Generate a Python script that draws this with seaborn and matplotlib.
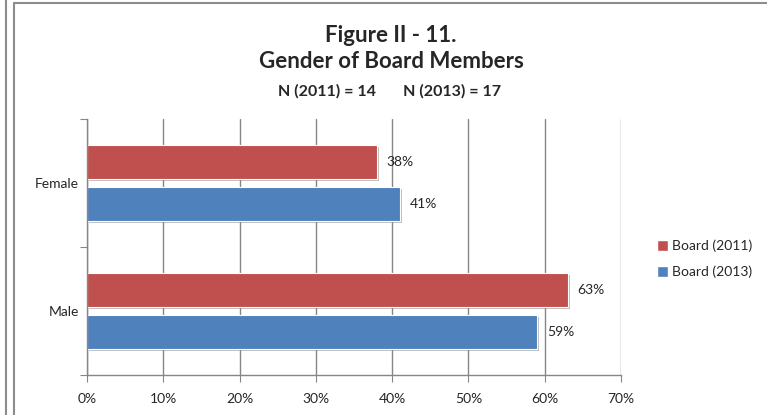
import matplotlib
matplotlib.use("Agg")
import matplotlib.pyplot as plt
import matplotlib.patheffects as pe
from matplotlib.lines import Line2D
from matplotlib.patches import Patch
import seaborn as sns
import pandas as pd

# data
genders = ["Female", "Male"]
board_2011 = [38, 63]
board_2013 = [41, 59]
series_names = ["Board (2011)", "Board (2013)"]
colors = ["#C0504D", "#4F81BD"]
x_ticks = [0, 10, 20, 30, 40, 50, 60, 70]

df = pd.DataFrame({
    "gender": genders * 2,
    "pct": board_2011 + board_2013,
    "series": [series_names[0]] * len(genders) + [series_names[1]] * len(genders),
})

sns.set_style("white")
plt.rcParams["font.family"] = ["Lato", "DejaVu Sans"]

fig = plt.figure(figsize=(7.67, 4.15), dpi=100)
ax = fig.add_axes([87 / 767, 1 - 375 / 415, (621 - 87) / 767, (375 - 119) / 415])

sns.barplot(data=df, y="gender", x="pct", hue="series", hue_order=series_names,
            order=genders, palette=colors, saturation=1, orient="h", width=0.65, gap=0.185,
            edgecolor="white", linewidth=0.8, legend=False, ax=ax)

# soft drop shadow like the Excel original
shadow = [pe.SimplePatchShadow(offset=(1.5, -1.5), shadow_rgbFace="#7f7f7f", alpha=0.5),
          pe.Normal()]
for bar in ax.patches:
    bar.set_path_effects(shadow)

for cont in ax.containers:
    ax.bar_label(cont, labels=[f"{v:.0f}%" for v in cont.datavalues],
                 padding=7, fontsize=10, color="#262626")

ax.set_xlim(0, 70)
ax.set_ylim(1.5, -0.5)
ax.set_xticks(x_ticks)
ax.set_xticklabels([f"{t}%" for t in x_ticks], fontsize=10)
ax.set_yticks([-0.5, 0.5, 1.5], minor=False)
ax.set_yticklabels([])
ax.set_yticks([0, 1], minor=True)
ax.set_yticklabels(genders, minor=True, fontsize=10)
ax.tick_params(axis="y", which="minor", length=0, pad=6)
ax.tick_params(axis="y", which="major", length=5, color="#868686", direction="out", left=True)
ax.tick_params(axis="x", length=5, color="#868686", direction="out", bottom=True, pad=8)
ax.set_xlabel("")
ax.set_ylabel("")
ax.grid(axis="x", color="#868686", linewidth=1)
ax.set_axisbelow(True)
for side in ["top", "right"]:
    ax.spines[side].set_visible(False)
for side in ["left", "bottom"]:
    ax.spines[side].set_color("#868686")
    ax.spines[side].set_linewidth(1)

# titles
fig.text(391 / 767, 1 - 35 / 415, "Figure II - 11.", ha="center", va="center",
         fontsize=16, fontweight="bold")
fig.text(391 / 767, 1 - 61 / 415, "Gender of Board Members", ha="center", va="center",
         fontsize=16, fontweight="bold")
fig.text(390 / 767, 1 - 91 / 415, "N (2011) = 14       N (2013) = 17", ha="center", va="center",
         fontsize=11.5, fontweight="bold")

# legend to the right of the plot
handles = [Patch(facecolor=c, edgecolor="white") for c in colors]
fig.legend(handles, series_names, loc="center left", bbox_to_anchor=(644 / 767, 1 - 259 / 415),
           frameon=False, fontsize=10, handlelength=0.8, handleheight=0.8,
           handletextpad=0.3, labelspacing=1.0)

# outer frame lines
frame = "#8c8c8c"
fig.add_artist(Line2D([6 / 767, 6 / 767], [0, 1], color=frame, lw=1.5))
fig.add_artist(Line2D([14 / 767, 14 / 767], [0, 1 - 3 / 415], color=frame, lw=1.5))
fig.add_artist(Line2D([14 / 767, 1], [1 - 3 / 415, 1 - 3 / 415], color=frame, lw=1.5))

fig.savefig("out.png", dpi=100)
